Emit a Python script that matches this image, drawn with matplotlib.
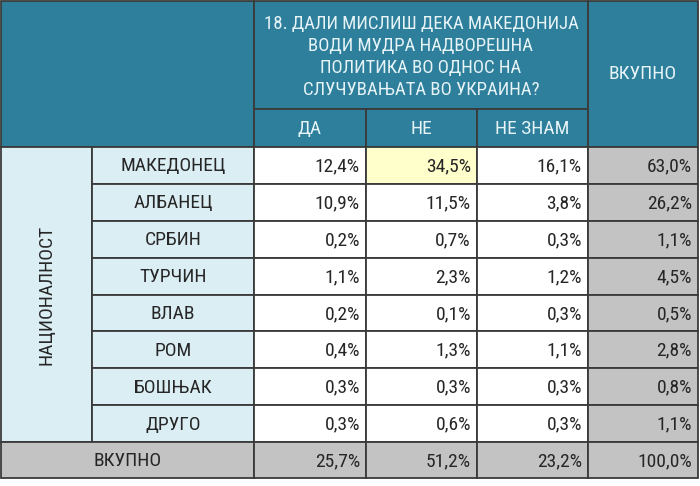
import matplotlib
matplotlib.use("Agg")
import matplotlib.pyplot as plt
from matplotlib.patches import Rectangle

plt.rcParams['font.family'] = ['Roboto Condensed', 'PT Sans Narrow', 'DejaVu Sans']

question = "18. ДАЛИ МИСЛИШ ДЕКА МАКЕДОНИЈА\nВОДИ МУДРА НАДВОРЕШНА\nПОЛИТИКА ВО ОДНОС НА\nСЛУЧУВАЊАТА ВО УКРАИНА?"
answers = ["ДА", "НЕ", "НЕ ЗНАМ"]
total_label = "ВКУПНО"
group_label = "НАЦИОНАЛНОСТ"
nations = ["МАКЕДОНЕЦ", "АЛБАНЕЦ", "СРБИН", "ТУРЧИН", "ВЛАВ", "РОМ", "БОШЊАК", "ДРУГО"]
da = [12.4, 10.9, 0.2, 1.1, 0.2, 0.4, 0.3, 0.3]
ne = [34.5, 11.5, 0.7, 2.3, 0.1, 1.3, 0.3, 0.6]
ne_znam = [16.1, 3.8, 0.3, 1.2, 0.3, 1.1, 0.3, 0.3]
row_total = [63.0, 26.2, 1.1, 4.5, 0.5, 2.8, 0.8, 1.1]
col_total = [25.7, 51.2, 23.2, 100.0]

teal = "#2e7f9b"
light = "#dbeef4"
grey = "#c3c3c3"
yellow = "#ffffcc"
edge = "#3a3a3a"
head_txt = "#e6f3f7"
txt = "#262626"

def pct(v):
    return f"{v:.1f}%".replace(".", ",")

fig = plt.figure(figsize=(7, 4.86), dpi=100)
ax = fig.add_axes([0, 0, 1, 1])
ax.set_xlim(0, 700)
ax.set_ylim(486, 0)
ax.axis("off")

xs = [1, 92, 254, 366, 477, 588, 698]
y_top, y_mid, y_head = 1, 109, 147
row_h = (442 - y_head) / len(nations)
y_bot = 478

def cell(x0, x1, y0, y1, fc, lw=1.3):
    ax.add_patch(Rectangle((x0, y0), x1 - x0, y1 - y0, facecolor=fc,
                           edgecolor=edge, linewidth=lw))

fs = 14
# header
cell(xs[0], xs[2], y_top, y_head, teal)
cell(xs[2], xs[5], y_top, y_mid, teal)
ax.text((xs[2] + xs[5]) / 2, (y_top + y_mid) / 2 + 2, question, ha="center", va="center",
        color=head_txt, fontsize=fs - 0.5, linespacing=1.3)
for i, a in enumerate(answers):
    cell(xs[2 + i], xs[3 + i], y_mid, y_head, teal)
    ax.text((xs[2 + i] + xs[3 + i]) / 2, (y_mid + y_head) / 2 + 1, a, ha="center", va="center",
            color=head_txt, fontsize=fs)
cell(xs[5], xs[6], y_top, y_head, teal)
ax.text((xs[5] + xs[6]) / 2, (y_top + y_head) / 2, total_label, ha="center", va="center",
        color=head_txt, fontsize=fs)

# body
y_end = y_head + row_h * len(nations)
cell(xs[0], xs[1], y_head, y_end, light)
ax.text((xs[0] + xs[1]) / 2, (y_head + y_end) / 2, group_label, ha="center", va="center",
        rotation=90, color=txt, fontsize=fs)
for r, name in enumerate(nations):
    y0 = y_head + r * row_h
    y1 = y0 + row_h
    yc = (y0 + y1) / 2 + 1
    cell(xs[1], xs[2], y0, y1, light)
    ax.text((xs[1] + xs[2]) / 2, yc, name, ha="center", va="center", color=txt, fontsize=fs)
    vals = [da[r], ne[r], ne_znam[r], row_total[r]]
    for c, v in enumerate(vals):
        fc = grey if c == 3 else "white"
        if v == max(vals[:3]) and r == 0 and c < 3:
            fc = yellow
        cell(xs[2 + c], xs[3 + c], y0, y1, fc)
        ax.text(xs[3 + c] - 6, yc, pct(v), ha="right", va="center", color=txt, fontsize=fs)

# total row
cell(xs[0], xs[2], y_end, y_bot, grey)
ax.text((xs[0] + xs[2]) / 2, (y_end + y_bot) / 2 + 1, total_label, ha="center", va="center",
        color=txt, fontsize=fs)
for c, v in enumerate(col_total):
    cell(xs[2 + c], xs[3 + c], y_end, y_bot, grey)
    ax.text(xs[3 + c] - 6, (y_end + y_bot) / 2 + 1, pct(v), ha="right", va="center",
            color=txt, fontsize=fs)

fig.savefig("out.png", dpi=100)
